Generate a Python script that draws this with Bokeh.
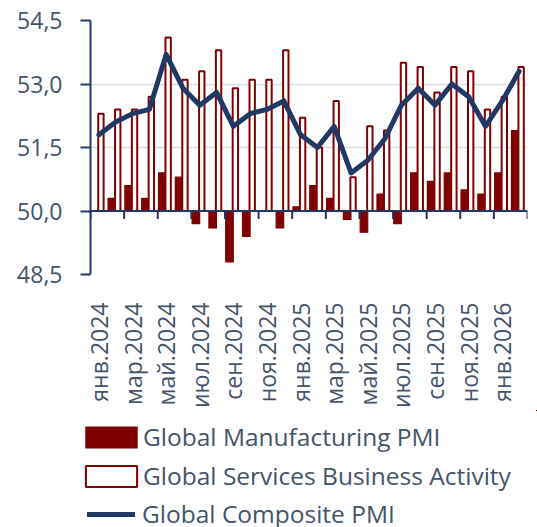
import math
from bokeh.plotting import figure
from bokeh.layouts import column
from bokeh.models import (ColumnDataSource, FixedTicker, Range1d, Span, Legend,
                          LegendItem, CustomJSTickFormatter)
from bokeh.transform import dodge
from bokeh.embed import file_html
from bokeh.resources import INLINE

months = ["янв.2024", "фев.2024", "мар.2024", "апр.2024", "май.2024", "июн.2024",
          "июл.2024", "авг.2024", "сен.2024", "окт.2024", "ноя.2024", "дек.2024",
          "янв.2025", "фев.2025", "мар.2025", "апр.2025", "май.2025", "июн.2025",
          "июл.2025", "авг.2025", "сен.2025", "окт.2025", "ноя.2025", "дек.2025",
          "янв.2026", "фев.2026"]
manufacturing = [50.0, 50.3, 50.6, 50.3, 50.9, 50.8, 49.7, 49.6, 48.8, 49.4, 50.0, 49.6,
                 50.1, 50.6, 50.3, 49.8, 49.5, 50.4, 49.7, 50.9, 50.7, 50.9, 50.5, 50.4,
                 50.9, 51.9]
services = [52.3, 52.4, 52.4, 52.7, 54.1, 53.1, 53.3, 53.8, 52.9, 53.1, 53.1, 53.8,
            52.2, 51.5, 52.6, 50.8, 52.0, 51.9, 53.5, 53.4, 52.8, 53.4, 53.3, 52.4,
            52.7, 53.4]
composite = [51.8, 52.1, 52.3, 52.4, 53.7, 52.9, 52.5, 52.8, 52.0, 52.3, 52.4, 52.6,
             51.8, 51.5, 52.0, 50.9, 51.2, 51.7, 52.5, 52.9, 52.5, 53.0, 52.7, 52.0,
             52.6, 53.3]
y_ticks = [48.5, 50.0, 51.5, 53.0, 54.5]
baseline = 50.0
series_names = ["Global Manufacturing PMI", "Global Services Business Activity",
                "Global Composite PMI"]

MAROON = "#7f0000"
NAVY = "#203864"
TEXT = "#44546a"
GRID = "#d9dee6"
FONT = "Open Sans"

idx = list(range(len(months)))
src = ColumnDataSource(dict(x=idx, man=manufacturing, serv=services, comp=composite,
                            base=[baseline] * len(idx)))

p = figure(width=537, height=410, x_range=Range1d(-0.5, len(months) - 0.5),
           y_range=Range1d(y_ticks[0], y_ticks[-1]), output_backend="svg",
           toolbar_location=None, min_border_left=90, min_border_right=10,
           min_border_top=20, min_border_bottom=134)
p.frame_align = False
p.outline_line_color = None
p.background_fill_color = "white"
p.border_fill_color = "white"

# grid
p.xgrid.grid_line_color = None
p.ygrid.ticker = FixedTicker(ticks=y_ticks)
p.ygrid.grid_line_color = GRID
p.ygrid.grid_line_width = 1.5

# bars
man_r = p.vbar(x=dodge("x", -0.23, range=p.x_range), width=0.45, top="man", bottom="base",
               source=src, fill_color=MAROON, line_color=MAROON, line_width=1.2,
               line_join="round")
serv_r = p.vbar(x=dodge("x", 0.12, range=p.x_range), width=0.32, top="serv", bottom="base",
                source=src, fill_color="white", line_color=MAROON, line_width=2)

# zero line and category ticks
p.add_layout(Span(location=baseline, dimension="width", line_color=NAVY, line_width=2))
tick_x = [i - 0.5 for i in range(0, len(months) + 1, 2)]
tick_len = 0.19
p.segment(x0=tick_x, x1=tick_x, y0=[baseline] * len(tick_x),
          y1=[baseline - tick_len] * len(tick_x), line_color=NAVY, line_width=2)

# line
line_r = p.line(x="x", y="comp", source=src, line_color=NAVY, line_width=5,
                line_join="round", line_cap="round")

# y axis
p.yaxis.ticker = FixedTicker(ticks=y_ticks)
p.yaxis.formatter = CustomJSTickFormatter(code="return tick.toFixed(1).replace('.', ',');")
p.yaxis.axis_line_color = NAVY
p.yaxis.axis_line_width = 2
p.yaxis.major_tick_line_color = NAVY
p.yaxis.major_tick_line_width = 2
p.yaxis.major_tick_out = 10
p.yaxis.major_tick_in = 0
p.yaxis.minor_tick_line_color = None
p.yaxis.major_label_standoff = 18
p.yaxis.major_label_text_font = FONT
p.yaxis.major_label_text_font_size = "23px"
p.yaxis.major_label_text_color = TEXT

# x axis
p.xaxis.ticker = FixedTicker(ticks=idx[::2])
p.xaxis.major_label_overrides = {i: months[i] for i in idx[::2]}
p.xaxis.axis_line_color = None
p.xaxis.major_tick_line_color = None
p.xaxis.minor_tick_line_color = None
p.xaxis.major_label_orientation = math.pi / 2
p.xaxis.major_label_standoff = 22
p.xaxis.major_label_text_font = FONT
p.xaxis.major_label_text_font_size = "23px"
p.xaxis.major_label_text_color = TEXT

# legend figure (the series are drawn here too, but outside its visible ranges)
p2 = figure(width=537, height=117, x_range=Range1d(-100, -99), y_range=Range1d(0, 1),
            x_axis_type=None, y_axis_type=None, output_backend="svg",
            toolbar_location=None, min_border_left=0, min_border_top=0,
            min_border_right=0, min_border_bottom=0)
p2.frame_align = False
p2.outline_line_color = None
p2.background_fill_color = "white"
p2.border_fill_color = "white"
man_leg = p2.vbar(x="x", top="man", bottom="base", width=0.45, source=src,
                  fill_color=MAROON, line_color=MAROON, line_width=1.2, line_join="round")
serv_leg = p2.vbar(x="x", top="serv", bottom="base", width=0.32, source=src,
                   fill_color="white", line_color=MAROON, line_width=2)
line_leg = p2.line(x="x", y="comp", source=src, line_color=NAVY, line_width=5,
                   line_cap="round")

legend1 = Legend(items=[LegendItem(label=series_names[0], renderers=[man_leg]),
                        LegendItem(label=series_names[1], renderers=[serv_leg])],
                 location=(79, 35), orientation="vertical",
                 border_line_color=None, background_fill_alpha=0,
                 glyph_width=64, glyph_height=26, label_height=21,
                 label_text_font=FONT, label_text_font_size="24.5px",
                 label_text_color=TEXT, spacing=6, padding=0, margin=0,
                 label_standoff=0)
legend2 = Legend(items=[LegendItem(label=series_names[2], renderers=[line_leg])],
                 location=(87, -3), orientation="vertical",
                 border_line_color=None, background_fill_alpha=0,
                 glyph_width=48, glyph_height=26, label_height=21,
                 label_text_font=FONT, label_text_font_size="24.5px",
                 label_text_color=TEXT, spacing=6, padding=0, margin=0,
                 label_standoff=7)
p2.add_layout(legend1, "center")
p2.add_layout(legend2, "center")

layout = column(p, p2, spacing=0)
open("out.html", "w").write(file_html(layout, INLINE))
